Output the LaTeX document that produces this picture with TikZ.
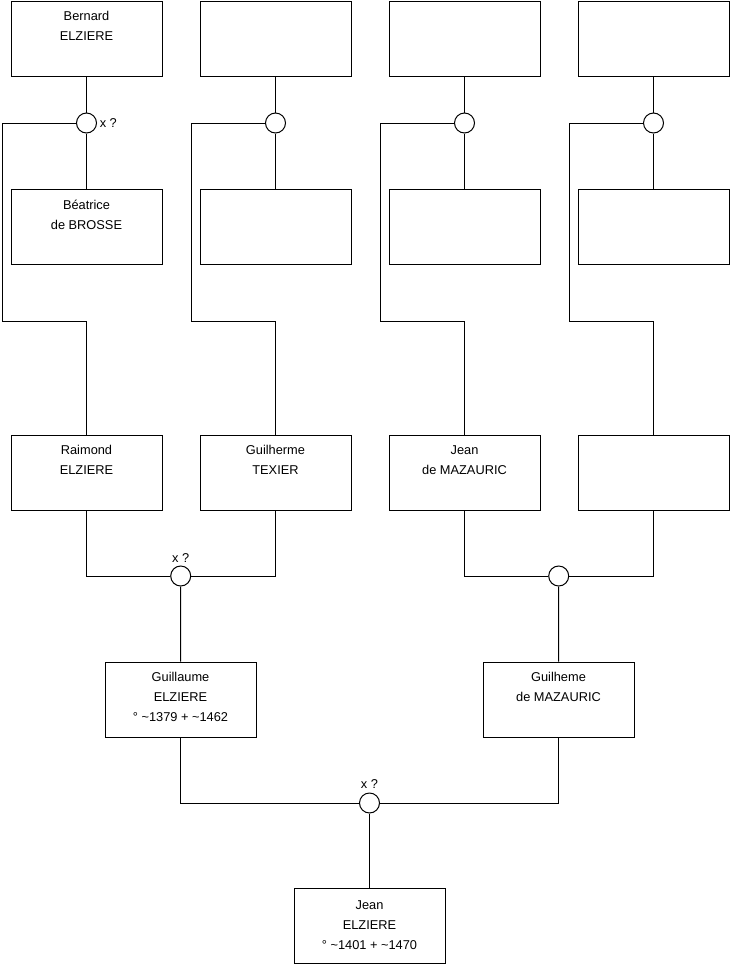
\documentclass[tikz,border=0pt]{standalone}
\usepackage{fontspec}
\setmainfont{Liberation Sans}
\begin{document}
\begin{tikzpicture}[x=1pt,y=-1pt,
  box/.style={draw=black,line width=1pt,minimum width=151pt,minimum height=75pt,inner sep=0pt,fill=white},
  circ/.style={draw=black,line width=1pt,circle,minimum size=20pt,inner sep=0pt,fill=white},
  txt/.style={anchor=north,align=center,inner sep=0pt,font=\fontsize{12.8}{20}\selectfont},
  lbl/.style={inner sep=0pt,font=\fontsize{12.8}{15}\selectfont},
  link/.style={draw=black,line width=1pt}]
\useasboundingbox (0,0) rectangle (740,975);
% row 1
\node[box] (b1) at (86.5,38.5) {};
\node[box] (b2) at (275.5,38.5) {};
\node[box] (b3) at (464.5,38.5) {};
\node[box] (b4) at (653.5,38.5) {};
% circles row 1
\node[circ] (c1) at (86.5,123) {};
\node[circ] (c2) at (275.5,123) {};
\node[circ] (c3) at (464.5,123) {};
\node[circ] (c4) at (653.5,123) {};
% row 2
\node[box] (b5) at (86.5,227) {};
\node[box] (b6) at (275.5,227) {};
\node[box] (b7) at (464.5,227) {};
\node[box] (b8) at (653.5,227) {};
% row 3
\node[box] (b9) at (86.5,472.5) {};
\node[box] (b10) at (275.5,472.5) {};
\node[box] (b11) at (464.5,472.5) {};
\node[box] (b12) at (653.5,472.5) {};
% circles row 3
\node[circ] (c9) at (180.7,576) {};
\node[circ] (c10) at (558.7,576) {};
% row 4
\node[box] (b13) at (180.5,699.5) {};
\node[box] (b14) at (558.5,699.5) {};
% circle row 4
\node[circ] (c13) at (369.5,803) {};
% row 5
\node[box] (b15) at (369.5,925.5) {};
% turning points
\coordinate (k1) at (2,321);
\coordinate (k2) at (191,321);
\coordinate (k3) at (380,321);
\coordinate (k4) at (569,321);
% links
\draw[link] (b1.south) -- (c1.north);
\draw[link] (c1.south) -- (b5.north);
\draw[link] (b2.south) -- (c2.north);
\draw[link] (c2.south) -- (b6.north);
\draw[link] (b3.south) -- (c3.north);
\draw[link] (c3.south) -- (b7.north);
\draw[link] (b4.south) -- (c4.north);
\draw[link] (c4.south) -- (b8.north);
\draw[link] (c1.west) -| (k1) -| (b9.north);
\draw[link] (c2.west) -| (k2) -| (b10.north);
\draw[link] (c3.west) -| (k3) -| (b11.north);
\draw[link] (c4.west) -| (k4) -| (b12.north);
\draw[link] (b9.south) |- (c9.west);
\draw[link] (b10.south) |- (c9.east);
\draw[link] (b11.south) |- (c10.west);
\draw[link] (b12.south) |- (c10.east);
\draw[link] (c9.south) -- (b13.north);
\draw[link] (c10.south) -- (b14.north);
\draw[link] (b13.south) |- (c13.west);
\draw[link] (b14.south) |- (c13.east);
\draw[link] (c13.south) -- (b15.north);
% texts
\node[txt] (t1) at ([yshift=-10.8pt]b1.north) {Bernard\\ELZIERE};
\node[txt] (t5) at ([yshift=-10.8pt]b5.north) {Béatrice\\de BROSSE};
\node[txt] (t9) at ([yshift=-11pt]b9.north) {Raimond\\ELZIERE};
\node[txt] (t10) at ([yshift=-11pt]b10.north) {Guilherme\\TEXIER};
\node[txt] (t11) at ([yshift=-11pt]b11.north) {Jean\\de MAZAURIC};
\node[txt] (t13) at ([yshift=-11pt]b13.north) {Guillaume\\ELZIERE\\° \textasciitilde1379 + \textasciitilde1462};
\node[txt] (t14) at ([yshift=-11pt]b14.north) {Guilheme\\de MAZAURIC};
\node[txt] (t15) at ([yshift=-13pt]b15.north) {Jean\\ELZIERE\\° \textasciitilde1401 + \textasciitilde1470};
% x ? labels
\node[lbl,anchor=west] (x1) at ([xshift=2.6pt]c1.east) {x ?};
\node[lbl,anchor=south] (x9) at ([yshift=3pt]c9.north) {x ?};
\node[lbl,anchor=south] (x13) at ([yshift=3.5pt]c13.north) {x ?};
\end{tikzpicture}
\end{document}
